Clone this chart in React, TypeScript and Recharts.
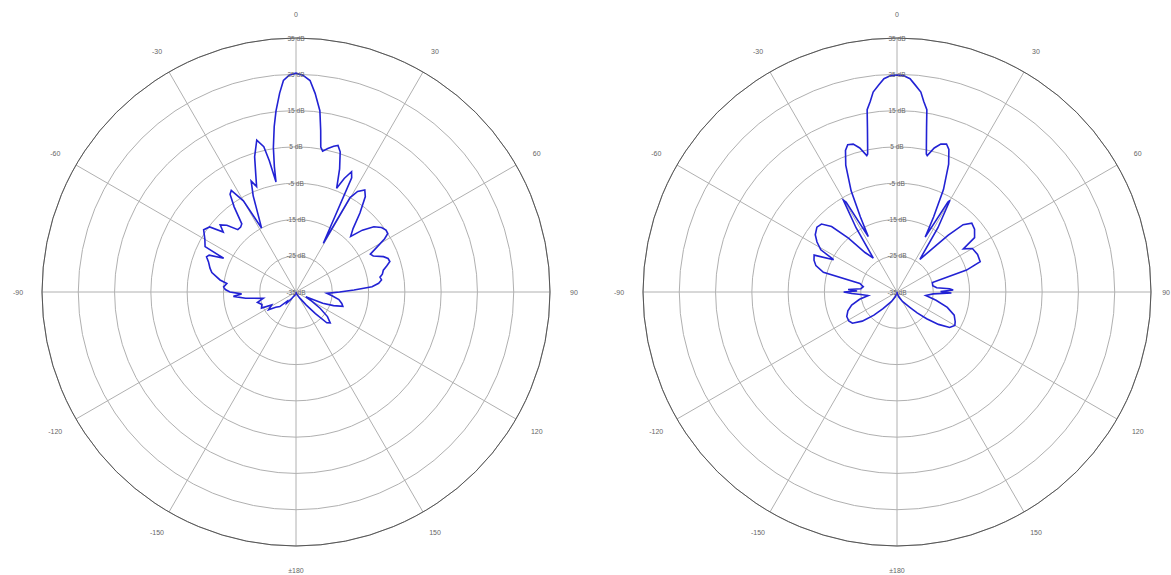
import { RadarChart, Radar, PolarGrid, PolarAngleAxis, PolarRadiusAxis } from 'recharts'

// angle ticks every 30 deg, 0 at top, clockwise
const angleTicks = [-150, -120, -90, -60, -30, 0, 30, 60, 90, 120, 150, 180]
const angleTickLabels = ['-150', '-120', '-90', '-60', '-30', '0', '30', '60', '90', '120', '150', '±180']
const ringTicks = [-35, -25, -15, -5, 5, 15, 25, 35]

// left pattern (deg, dB)
const leftAngles = [
   -180, -170, -160, -150, -145, -140, -136, -132, -127, -123, -118, -115, -110, -105, -101, -97, -94, -92, -90, -88,
   -86, -83, -81, -77, -74.5, -71, -68.5, -67, -65, -63.5, -60, -56, -53, -50.5, -48.5, -46, -43, -40.5, -38.5, -36,
   -34, -32.5, -30, -28.3, -24, -22, -20.5, -19, -17, -14.5, -12.5, -11.5, -10.3, -9.8, -8.9, -7.5, -6.3, -4.7, -3.4, -1.8,
   0, 1.8, 3.8, 5.5, 7.5, 8.7, 9.7, 10.7, 12.5, 14.5, 16, 17.5, 19.5, 21.4, 23, 24.8, 26, 29.3, 29.8, 31.5,
   34, 36, 39, 42, 44.5, 47, 50, 53, 55.5, 57.5, 59, 61, 63, 65, 68, 70, 72, 74, 76, 78.3,
   80, 82, 84, 86, 88, 90, 92.5, 96, 100, 104, 107, 110, 113, 116, 120, 124, 128, 132, 135, 138,
   142, 148, 155, 165, 175, 180
]
const leftGain = [
   -34.5, -34.5, -34, -33.5, -32.5, -31, -31.5, -29, -28, -26, -27.4, -24.5, -25, -24, -25.8, -21, -17.7, -20, -16.8, -15.5,
   -15, -15.8, -13.8, -11.2, -10.4, -9.5, -8.5, -9, -13, -7, -6, -4.3, -5.2, -9, -7.1, -8.5, -11.5, -11.5, -11, -6,
   -2.5, -1.8, -6, -15, -6, -2, -4, -1, 4, 8.2, 6, 2, -4.2, 0, 5.3, 11, 15.2, 20, 23.4, 24.8,
   25.3, 24.8, 23.4, 20, 15.4, 10, 5.5, 4.5, 5.5, 6.5, 7, 5.5, 1, -4.3, -1, 1.5, 0, -19.6, -5, -2.5,
   -1.1, -2.5, -7, -11.5, -13.5, -10, -7, -5.5, -4.9, -5, -6.5, -9.5, -12, -11.5, -9, -8, -7.8, -9, -10.2, -10.7,
   -11.5, -11.2, -12.1, -14, -19, -23, -26.5, -25, -23, -22, -21.5, -24, -27, -32, -30, -27, -24, -22.3, -23, -27,
   -30.5, -33, -34, -34.5, -35, -34.5
]

// right pattern (deg, dB)
const rightAngles = [
   -180, -170, -160, -150, -140, -135, -130, -125, -121, -116, -111, -106, -101, -97, -94, -92, -90, -88.5, -87, -85,
   -81, -77, -75, -72, -69, -66, -63, -61, -58, -55, -51, -48, -45, -42, -39, -35, -32.5, -30.3, -29.5, -27.4,
   -26, -24.4, -22, -20, -18.5, -16.5, -14.5, -12.5, -12, -11.5, -10.2, -9.3, -8, -6.8, -5, -3.5, -1.8,
   0, 1.8, 3.5, 5, 6.8, 8, 9.3, 10.2, 11.5, 12, 12.5, 14.5, 16.5, 18.5, 20, 22, 24.4, 26, 27.2, 29.5,
   30, 32.5, 35, 39, 42, 44.5, 47.4, 51, 55, 57, 60, 65, 70, 72.5, 75, 80, 84, 86.5, 88, 89.5,
   91, 93, 97, 102, 107, 112, 117, 120, 124, 128, 132, 136, 140, 150, 160, 170, 180
]
const rightGain = [
   -35, -34.5, -33.5, -32, -29, -26, -22.5, -20, -19.5, -19.6, -20.5, -22, -24.5, -27, -25, -22.5, -20.3, -24, -21.5, -25,
   -25.6, -24.5, -14, -11.5, -10.5, -10, -15.4, -11, -9, -7.5, -6.6, -7, -9.5, -15, -21, -23.6, -14, -5.7, -6.5, -17.8,
   -12, -4.4, 2.7, 6.5, 7.8, 7.5, 6, 3.5, 3.9, 5.6, 11, 15.9, 18, 20.5, 22.3, 23.9, 24.6,
   24.8, 24.6, 23.9, 22.3, 20.5, 18, 15.9, 11, 5.6, 3.9, 3.5, 6, 7.5, 8, 6.8, 3, -4, -12, -18, -6.5,
   -5.8, -14, -24, -20, -14, -9, -7, -7.5, -8.9, -13.2, -11, -10.5, -10.6, -14.9, -24.9, -25, -24, -20.5, -19.5, -23,
   -20, -25, -27, -24, -20.5, -18, -17, -16.6, -17.5, -20.5, -24, -27, -29.5, -32, -33.5, -34.5, -35
]

const lineColor = '#2222d4'
const gridColor = '#b0b0b0'
const labelColor = '#666'
const fontFamily = '"Liberation Sans", Arial, sans-serif'

// keeps the outermost label inside the chart box
const makeAngleTick = (w: number) => ({ x, y, payload }: any) => {
   const i = angleTicks.indexOf(payload.value)
   const clipped = x + 6 > w
   return (
      <text
         x={ clipped ? w - 1 : x }
         y={ y }
         textAnchor={ clipped ? 'end' : 'middle' }
         dominantBaseline='central'
         fontSize={ 7 }
         fill={ labelColor }
         fontFamily={ fontFamily }
      >
         { angleTickLabels[i] }
      </text>
   )
}

const RingTick = ({ x, y, payload }: any) => (
   <text x={ x } y={ y } textAnchor='middle' dominantBaseline='central' fontSize={ 6.5 } fill={ labelColor } fontFamily={ fontFamily }>
      { `${payload.value} dB` }
   </text>
)

type PolarPlotProps = {
   w: number
   cx: number
   angles: number[]
   gain: number[]
}

const PolarPlot = ({ w, cx, angles, gain }: PolarPlotProps) => {
   const data = angles.map((a, i) => ({ angle: a, gain: gain[i] }))
   return (
      <RadarChart
         width={ w }
         height={ 575 }
         data={ data }
         cx={ cx }
         cy={ 292 }
         outerRadius={ 254 }
         startAngle={ 270 }
         endAngle={ -90 }
         margin={{ top: 0, right: 0, bottom: 0, left: 0 }}
      >
         <PolarGrid gridType='circle' stroke={ gridColor } strokeWidth={ 1 } />
         <PolarAngleAxis
            dataKey='angle'
            type='number'
            domain={ [-180, 180] }
            ticks={ angleTicks }
            tick={ makeAngleTick(w) }
            tickLine={ false }
            tickSize={ 24 }
            axisLineType='circle'
            axisLine={{ stroke: '#555', strokeWidth: 1 }}
         />
         <PolarRadiusAxis
            angle={ 90 }
            type='number'
            domain={ [-35, 35] }
            ticks={ ringTicks }
            tick={ RingTick }
            axisLine={ false }
            tickLine={ false }
         />
         <Radar
            dataKey='gain'
            stroke={ lineColor }
            strokeWidth={ 1.6 }
            fill='none'
            fillOpacity={ 0 }
            dot={ false }
            isAnimationActive={ false }
         />
      </RadarChart>
   )
}

export default function App() {
   return (
      <div style={{ position: 'absolute', left: 0, top: 0, width: 1171, height: 575, background: '#fff', display: 'flex' }}>
         <PolarPlot w={ 586 } cx={ 296 } angles={ leftAngles } gain={ leftGain } />
         <PolarPlot w={ 585 } cx={ 311 } angles={ rightAngles } gain={ rightGain } />
      </div>
   )
}
